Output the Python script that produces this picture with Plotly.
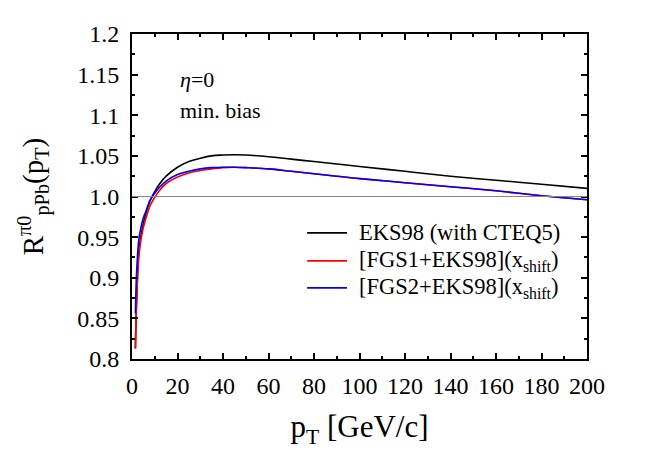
import plotly.graph_objects as go

# p_T grid [GeV/c] and nuclear modification factors
pt = [1.5, 2, 3, 4, 5, 6, 8, 10, 12, 15, 20, 25, 30, 35, 40, 45, 50,
      60, 70, 80, 90, 100, 120, 140, 160, 180, 200]

r_eks98 = [0.813, 0.870, 0.932, 0.952, 0.967, 0.978, 0.995, 1.006, 1.015,
           1.025, 1.036, 1.043, 1.047, 1.050, 1.051, 1.0514, 1.051,
           1.049, 1.046, 1.043, 1.040, 1.037, 1.031, 1.025, 1.020, 1.015, 1.010]

r_fgs1 = [0.813, 0.870, 0.925, 0.948, 0.962, 0.972, 0.989, 0.999, 1.007,
          1.016, 1.024, 1.029, 1.032, 1.034, 1.0355, 1.036, 1.0355,
          1.034, 1.031, 1.028, 1.025, 1.022, 1.017, 1.012, 1.007, 1.001, 0.996]

r_fgs2 = [0.856, 0.905, 0.947, 0.963, 0.974, 0.981, 0.996, 1.004, 1.011,
          1.019, 1.027, 1.031, 1.034, 1.0355, 1.036, 1.036, 1.0355,
          1.034, 1.031, 1.028, 1.025, 1.022, 1.017, 1.012, 1.007, 1.001, 0.996]

series_names = ["EKS98 (with CTEQ5)",
                "[FGS1+EKS98](x<sub>shift</sub>)",
                "[FGS2+EKS98](x<sub>shift</sub>)"]
series_colors = ["black", "#ff0000", "#0000ff"]

y_ticks = [0.8, 0.85, 0.9, 0.95, 1.0, 1.05, 1.1, 1.15, 1.2]
y_labels = ["0.8", "0.85", "0.9", "0.95", "1.0", "1.05", "1.1", "1.15", "1.2"]

serif = "Liberation Serif"

fig = go.Figure()
fig.add_hline(y=1.0, line=dict(color="#888888", width=1))

for vals, name, col in zip([r_eks98, r_fgs1, r_fgs2], series_names, series_colors):
    fig.add_trace(go.Scatter(x=pt, y=vals, mode="lines", name=name,
                             line=dict(color=col, width=1.6, shape="spline")))

# hand-placed legend (tighter row spacing than plotly's own legend)
legend_rows = [0.388, 0.302, 0.219]
for row_y, name, col in zip(legend_rows, series_names, series_colors):
    fig.add_shape(type="line", xref="paper", yref="paper", x0=0.385, x1=0.4725, y0=row_y, y1=row_y,
                  line=dict(color=col, width=1.6))
    fig.add_annotation(x=0.495, y=row_y, xref="paper", yref="paper", xanchor="left", yanchor="middle",
                       text=name, showarrow=False, font=dict(family=serif, size=22.5, color="black"))

axis_common = dict(showline=True, linecolor="black", linewidth=2, mirror="allticks",
                   ticks="inside", ticklen=6, tickwidth=1.5, tickcolor="black",
                   showgrid=False, zeroline=False, automargin=False,
                   tickfont=dict(family=serif, size=24, color="black"))

fig.update_xaxes(range=[0, 200], dtick=20, tick0=0, ticklabelstandoff=4,
                 minor=dict(dtick=10, ticks="inside", ticklen=3, tickcolor="black"),
                 title=dict(text="p<sub>T</sub> [GeV/c]", font=dict(family=serif, size=31, color="black"),
                            standoff=18),
                 **axis_common)
fig.update_yaxes(range=[0.8, 1.2], tickvals=y_ticks, ticktext=y_labels, ticklabelstandoff=6,
                 minor=dict(dtick=0.025, tick0=0.8, ticks="inside", ticklen=3, tickcolor="black"),
                 title=dict(text="R<sup>π0</sup><sub>pPb</sub>(p<sub>T</sub>)",
                            font=dict(family=serif, size=29, color="black"), standoff=25),
                 **axis_common)

fig.add_annotation(x=0.1, y=0.86, xref="paper", yref="paper", xanchor="left", yanchor="middle",
                   text="<i>η</i>=0", showarrow=False, font=dict(family=serif, size=22, color="black"))
fig.add_annotation(x=0.1, y=0.765, xref="paper", yref="paper", xanchor="left", yanchor="middle",
                   text="min. bias", showarrow=False, font=dict(family=serif, size=22, color="black"))

# page body adds an 8px offset, so margins are shifted to compensate
fig.update_layout(
    width=655, height=460,
    margin=dict(l=124, r=76, t=26, b=109),
    plot_bgcolor="white", paper_bgcolor="white",
    showlegend=False,
)

fig.write_html("out.html")
